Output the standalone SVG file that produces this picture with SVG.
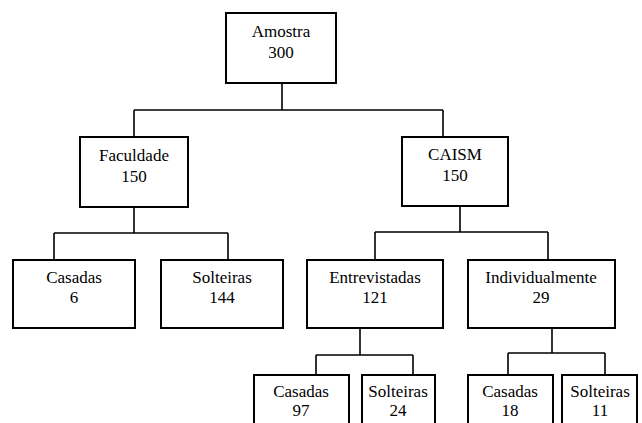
<svg xmlns="http://www.w3.org/2000/svg" width="642" height="423" viewBox="0 0 642 423">
<style>
.box{fill:#fff;stroke:#000;stroke-width:2}
.t{font-family:"Liberation Serif","Times New Roman",serif;font-size:17px;text-anchor:middle;fill:#000}
.c{fill:none;stroke:#000;stroke-width:1.6}
</style>
<rect width="642" height="423" fill="#fff"/>
<g id="connectors">
<path class="c" d="M282 83V110M134 110H443M134 110V137M443 110V137"/>
<path class="c" d="M134 207V233M54 233H228M54 233V260M228 233V260"/>
<path class="c" d="M460 206V232M375 232H548M375 232V260M548 232V260"/>
<path class="c" d="M360 328V355M316 355H413M316 355V375M413 355V375"/>
<path class="c" d="M552 328V353M508 353H605M508 353V375M605 353V375"/>
</g>
<g id="amostra"><rect class="box" x="226" y="13" width="110" height="70"/><text class="t" x="281" y="37">Amostra</text><text class="t" x="281" y="58">300</text></g>
<g id="faculdade"><rect class="box" x="80" y="137" width="108" height="70"/><text class="t" x="134" y="161">Faculdade</text><text class="t" x="134" y="182">150</text></g>
<g id="caism"><rect class="box" x="402" y="137" width="106" height="69"/><text class="t" x="455" y="160">CAISM</text><text class="t" x="455" y="181">150</text></g>
<g id="fac-casadas"><rect class="box" x="13" y="260" width="122" height="68"/><text class="t" x="74" y="283">Casadas</text><text class="t" x="74" y="303">6</text></g>
<g id="fac-solteiras"><rect class="box" x="161" y="260" width="122" height="68"/><text class="t" x="222" y="283">Solteiras</text><text class="t" x="222" y="303">144</text></g>
<g id="entrevistadas"><rect class="box" x="307" y="260" width="136" height="68"/><text class="t" x="375" y="283">Entrevistadas</text><text class="t" x="375" y="303">121</text></g>
<g id="individualmente"><rect class="box" x="468" y="260" width="147" height="68"/><text class="t" x="541" y="283">Individualmente</text><text class="t" x="541" y="303">29</text></g>
<g id="ent-casadas"><rect class="box" x="254" y="375" width="95" height="60"/><text class="t" x="301" y="397">Casadas</text><text class="t" x="301" y="416">97</text></g>
<g id="ent-solteiras"><rect class="box" x="362" y="375" width="73" height="60"/><text class="t" x="398" y="397">Solteiras</text><text class="t" x="398" y="416">24</text></g>
<g id="ind-casadas"><rect class="box" x="468" y="375" width="85" height="60"/><text class="t" x="510" y="397">Casadas</text><text class="t" x="510" y="416">18</text></g>
<g id="ind-solteiras"><rect class="box" x="562" y="375" width="75" height="60"/><text class="t" x="600" y="397">Solteiras</text><text class="t" x="600" y="416">11</text></g>
</svg>
